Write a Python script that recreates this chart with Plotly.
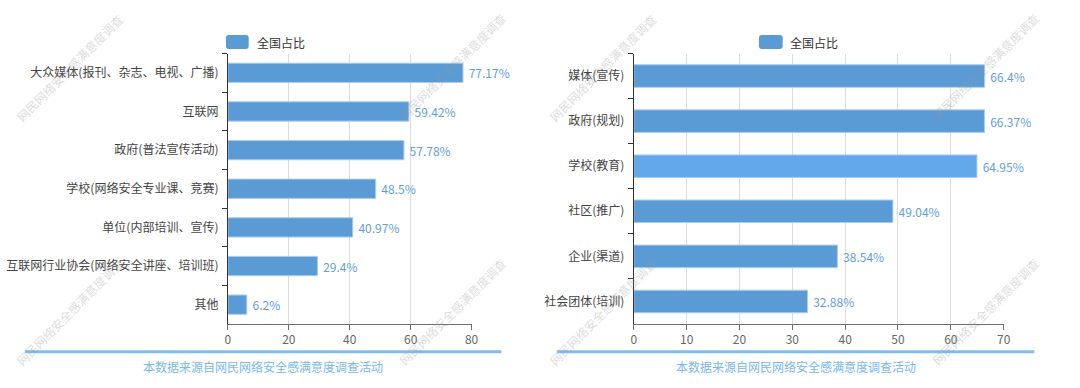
import plotly.graph_objects as go

W, H = 1080, 388

# ---------------- data ----------------
left_categories = [
    "大众媒体(报刊、杂志、电视、广播)",
    "互联网",
    "政府(普法宣传活动)",
    "学校(网络安全专业课、竞赛)",
    "单位(内部培训、宣传)",
    "互联网行业协会(网络安全讲座、培训班)",
    "其他",
]
left_values = [77.17, 59.42, 57.78, 48.5, 40.97, 29.4, 6.2]
left_ticks = [0, 20, 40, 60, 80]

right_categories = [
    "媒体(宣传)",
    "政府(规划)",
    "学校(教育)",
    "社区(推广)",
    "企业(渠道)",
    "社会团体(培训)",
]
right_values = [66.4, 66.37, 64.95, 49.04, 38.54, 32.88]
right_ticks = [0, 10, 20, 30, 40, 50, 60, 70]
right_highlight = "学校(教育)"

series_name = "全国占比"
footer_text = "本数据来源自网民网络安全感满意度调查活动"
watermark_text = "网民网络安全感满意度调查"

# ---------------- styles ----------------
FONT = "Noto Sans CJK SC"
BAR = "#5b9bd5"
BAR_HI = "#63a8ea"
LABEL = "#5fa0dc"
FOOT_LINE = "#80bdf5"
FOOT_TEXT = "#7ab8ee"


def px(x):
    return x / W


def py(y):
    return 1 - y / H


fig = go.Figure()

fig.add_trace(go.Bar(
    x=left_values, y=left_categories, orientation="h", name=series_name,
    marker=dict(color=BAR, line=dict(color="#a9cdee", width=1)),
    texttemplate="\u00a0%{x}%", textposition="outside", cliponaxis=False,
    textfont=dict(color=LABEL, size=12, family=FONT),
    xaxis="x", yaxis="y", showlegend=False,
))

fig.add_trace(go.Bar(
    x=right_values, y=right_categories, orientation="h", name=series_name,
    marker=dict(color=[BAR_HI if c == right_highlight else BAR for c in right_categories],
                line=dict(color="#a9cdee", width=1)),
    texttemplate="\u00a0%{x}%", textposition="outside", cliponaxis=False,
    textfont=dict(color=LABEL, size=12, family=FONT),
    xaxis="x2", yaxis="y2", showlegend=False,
))

ydom = [py(324), py(53.5)]
xcommon = dict(
    showgrid=True, gridcolor="#dcdcdc", gridwidth=1,
    showline=True, linecolor="#6e6e6e", linewidth=1,
    ticks="outside", ticklen=5, tickcolor="#6e6e6e",
    tickfont=dict(size=12, color="#666", family=FONT),
    zeroline=False, fixedrange=True,
)
ycommon = dict(
    showgrid=False, showline=True, linecolor="#333", linewidth=1,
    ticks="outside", ticklen=5, tickcolor="#333", tickson="boundaries",
    ticklabelstandoff=6,
    tickfont=dict(size=12, color="#444", family=FONT),
    autorange="reversed", fixedrange=True,
)

fig.update_layout(
    width=W, height=H, autosize=False,
    margin=dict(l=0, r=0, t=0, b=0),
    paper_bgcolor="white", plot_bgcolor="white",
    font=dict(family=FONT),
    bargap=0.5,
    xaxis=dict(domain=[px(227), px(473)], range=[0, 80], tickvals=left_ticks,
               anchor="y", **xcommon),
    yaxis=dict(domain=ydom, anchor="x", **ycommon),
    xaxis2=dict(domain=[px(636.7), px(1010)], range=[0, 70], tickvals=right_ticks,
                anchor="y2", **xcommon),
    yaxis2=dict(domain=ydom, anchor="x2", **ycommon),
)

shapes = []
annotations = []

# custom legends
for (rx0, rx1, tx) in [(225, 248, 254), (763, 787, 792)]:
    y0, y1, r = 35, 49, 3
    path = (f"M{px(rx0 + r)},{py(y0)} L{px(rx1 - r)},{py(y0)} "
            f"Q{px(rx1)},{py(y0)} {px(rx1)},{py(y0 + r)} "
            f"L{px(rx1)},{py(y1 - r)} Q{px(rx1)},{py(y1)} {px(rx1 - r)},{py(y1)} "
            f"L{px(rx0 + r)},{py(y1)} Q{px(rx0)},{py(y1)} {px(rx0)},{py(y1 - r)} "
            f"L{px(rx0)},{py(y0 + r)} Q{px(rx0)},{py(y0)} {px(rx0 + r)},{py(y0)} Z")
    shapes.append(dict(type="path", xref="paper", yref="paper", path=path,
                       fillcolor=BAR, line=dict(width=0)))
    annotations.append(dict(x=px(tx), y=py(42), xref="paper", yref="paper",
                            text=series_name, showarrow=False, xanchor="left",
                            yanchor="middle",
                            font=dict(size=12, color="#333", family=FONT)))

# footers
for (lx0, lx1, cx) in [(22, 503, 262.5), (559, 1041, 800)]:
    shapes.append(dict(type="line", xref="paper", yref="paper",
                       x0=px(lx0), x1=px(lx1), y0=py(351.7), y1=py(351.7),
                       line=dict(color=FOOT_LINE, width=3)))
    annotations.append(dict(x=px(cx), y=py(366), xref="paper", yref="paper",
                            text=footer_text, showarrow=False, xanchor="center",
                            yanchor="middle",
                            font=dict(size=12, color=FOOT_TEXT, family=FONT)))

# watermarks
for (cx, cy) in [(67, 67), (453, 66), (67, 311), (453, 311),
                 (605, 67), (991, 66), (605, 311), (991, 311)]:
    annotations.append(dict(x=px(cx), y=py(cy), xref="paper", yref="paper",
                            text=watermark_text, showarrow=False, textangle=-45,
                            xanchor="center", yanchor="middle",
                            font=dict(size=12, color="rgba(150,150,150,0.35)",
                                      family=FONT)))

fig.update_layout(shapes=shapes, annotations=annotations)

fig.write_html("out.html", config={"displayModeBar": False},
               post_script="document.body.style.margin='0';")
